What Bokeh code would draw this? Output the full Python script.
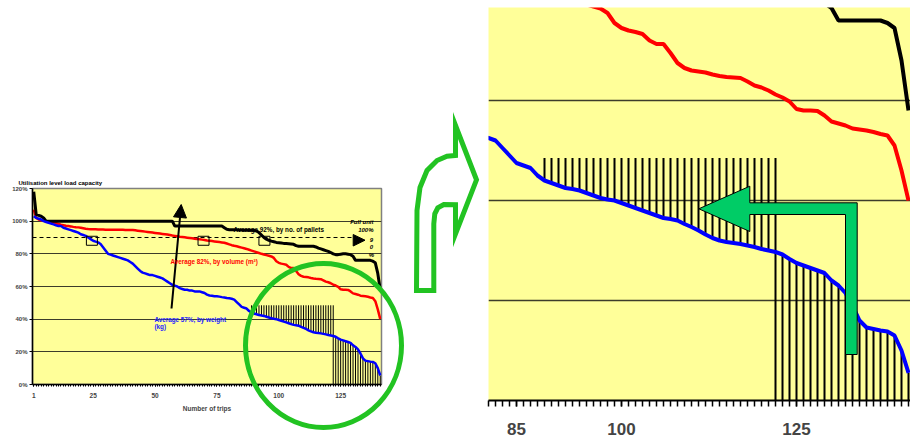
import numpy as np
from bokeh.plotting import figure
from bokeh.models import (FixedTicker, PrintfTickFormatter, Label, PolyAnnotation,
                          Arrow, NormalHead, Range1d)
from bokeh.embed import file_html
from bokeh.resources import INLINE

# ---------------- data ----------------
trips = list(range(1, 142))

pallets = [118, 104, 103.5, 103, 102,
           100, 100, 100, 100, 100, 100, 100, 100, 100, 100,
           100, 100, 100, 100, 100, 100, 100, 100, 100, 100,
           100, 100, 100, 100, 100, 100, 100, 100, 100, 100,
           100, 100, 100, 100, 100, 100, 100, 100, 100, 100,
           100, 100, 100, 100, 100, 100, 100, 100, 100, 100,
           100, 100,
           97, 97, 97, 97, 97, 97, 97, 97, 97, 97,
           97, 97, 97, 97, 97, 97, 97, 97, 97, 97,
           96, 95,
           94.8, 94.8, 94.7, 94.7, 94.6, 94.6, 94.5, 94.5, 94.5, 94.4, 94.3, 94,
           93, 91.5, 90, 89, 88.3, 87.8, 87.4, 87, 86.8, 86.6, 86.4, 86.3, 86.2, 86, 85.8, 85,
           84.6, 84.6, 84.6, 84.6, 84.6, 84.6, 84.6,
           84.2, 83.5, 83, 82.5, 82, 81.5, 80.8, 80, 79.5, 79.5, 79.8, 80, 80, 79.8, 79.5, 78.5, 76,
           76, 76, 76, 76, 76, 76,
           75.5, 74.5, 68, 58]

volume = [107, 102, 101, 100.5, 100.3, 100, 99.7, 99.5, 99.3, 98.8,
          98.3, 97.8, 97.5, 97.2, 97, 96.8, 96.5, 96.3, 96.2, 96,
          95.7, 95.4, 95.2, 95.1, 95, 95, 94.9, 94.9, 94.9, 94.8,
          94.8, 94.8, 94.8, 94.7, 94.7, 94.7, 94.7, 94.6, 94.6, 94.6,
          94.6, 94.4, 94.2, 94, 93.8, 93.6, 93.4, 93.2, 93, 92.8,
          92.6, 92.4, 92.2, 92, 91.8, 91.5, 91.2, 91, 90.8, 90.5,
          90.3, 90.1, 89.9, 89.7, 89.5, 89.3, 89.1, 88.9, 88.7, 88.5,
          88.2, 88, 87.8, 87.6, 87.4, 87.2, 87, 86.8, 86.3, 85.8,
          85.3, 84.9, 84.6, 84.2, 83.8, 83.4, 83, 82.5, 82, 81.5,
          81, 80.5, 80, 79.6, 79.2, 78.8, 78.4, 77.5, 75.5, 74.5,
          74, 73.7, 73.3, 72, 71.3, 71.3, 69.5, 67.5, 66.5, 66,
          65.8, 65.6, 65.2, 64.9, 64.7, 64.6, 64.5, 63.8, 63, 62.6,
          62, 61.2, 60.6, 59.8, 58.3, 58, 58, 57.9, 57, 55.8,
          55.4, 55, 54.4, 54.2, 54, 53.7, 53.3, 53, 51, 46,
          40]

weight = [103, 102, 101.5, 101, 100, 99.5, 99, 98.5, 98, 97.5,
          97, 97, 96, 95.5, 95, 94.5, 94, 93.5, 93, 92,
          91.5, 91, 90, 89, 88, 87.5, 87, 86, 84, 82,
          80, 79.5, 79, 78.5, 78, 77.5, 77, 76.5, 76, 75,
          74, 72.5, 71, 69.5, 68.5, 68, 67.5, 67, 67, 66.5,
          66, 65.5, 65, 64, 63, 62, 61, 60.5, 60, 59,
          58.5, 58, 58, 57.5, 57.5, 57, 57, 57, 56.5, 56,
          55, 54.5, 54.3, 54, 54, 53.8, 53.5, 53.3, 53, 52.8,
          52.5, 52, 50.5, 49, 47.5, 47, 46.5, 45, 44, 43.5,
          43, 42.5, 42.3, 42, 41.5, 41, 40.5, 40.2, 40, 39.5,
          39, 38.5, 38, 37.5, 37, 36.5, 36.3, 36, 35.3, 34.7,
          34, 33.2, 32.5, 32, 31.7, 31.5, 31.3, 31, 30.7, 30.3,
          30, 29.7, 29.2, 28.3, 27.5, 27, 26.5, 26, 25.5, 24,
          23, 21.5, 19, 16, 14.6, 14.3, 14, 13.8, 13, 10,
          5.5]

left_x_labels = [1, 25, 50, 75, 100, 125]
right_x_labels = [85, 100, 125]
y_ticks = [0, 20, 40, 60, 80, 100, 120]
grid_levels = [20, 40, 60, 80, 100]
right_grid_levels = [20, 40, 60]
full_unit_level = 90
hatch_top = 48.5
spare_trips = list(range(89, 123))     # trips with spare capacity (upper hatching)
moved_trips = list(range(122, 142))    # trips whose load is moved (lower hatching)
crossing_trips = [24.5, 69.6, 94.2]
crossing_level = 88

# ---------------- styling ----------------
FONT = "Liberation Sans"
YELLOW = "#FFFF99"
GREEN = "#22C322"
GRID = "#3d3d2a"

up_x = spare_trips
up_y0 = [weight[t - 1] for t in spare_trips]
up_y1 = [hatch_top for _ in spare_trips]
lo_x = moved_trips
lo_y0 = [0 for _ in moved_trips]
lo_y1 = [weight[t - 1] for t in moved_trips]

# page-pixel -> data helpers (for decorations only)
def lx(px):
    return 0.5 + (px - 32) * 141 / 349

def ly(py):
    return (384 - py) * 120 / 196

def rx(px):
    return 100 + (px - 621) / 7.0

def ry(py):
    return (400 - py) / 5.0

# ---------------- left chart ----------------
left = figure(name="left", width=400, height=250,
              x_range=Range1d(0.5, 141.5), y_range=Range1d(0, 120),
              output_backend="svg", toolbar_location=None, title=None,
              min_border_left=32, min_border_right=19, min_border_top=18, min_border_bottom=36)
left.background_fill_color = YELLOW
left.border_fill_color = "white"
left.outline_line_color = "#808080"
left.outline_line_width = 1.5
left.xgrid.visible = False
left.ygrid.ticker = FixedTicker(ticks=grid_levels)
left.ygrid.grid_line_color = GRID
left.ygrid.grid_line_width = 1.2

left.yaxis.ticker = FixedTicker(ticks=y_ticks)
left.yaxis.formatter = PrintfTickFormatter(format="%d%%")
left.yaxis.major_label_text_font = FONT
left.yaxis.major_label_text_font_style = "bold"
left.yaxis.major_label_text_font_size = "6px"
left.yaxis.major_label_standoff = 2
left.yaxis.major_tick_out = 3
left.yaxis.major_tick_in = 0
left.yaxis.minor_tick_out = 0
left.yaxis.minor_tick_in = 0
left.yaxis.axis_line_width = 1.5

left.xaxis.ticker = FixedTicker(ticks=left_x_labels, minor_ticks=trips)
left.xaxis.major_label_text_font = FONT
left.xaxis.major_label_text_font_style = "bold"
left.xaxis.major_label_text_font_size = "6.5px"
left.xaxis.major_label_standoff = 6
left.xaxis.major_tick_out = 2
left.xaxis.major_tick_in = 0
left.xaxis.minor_tick_out = 2
left.xaxis.minor_tick_in = 0
left.xaxis.axis_line_width = 1.5
left.xaxis.axis_label = "Number of trips"
left.xaxis.axis_label_text_font = FONT
left.xaxis.axis_label_text_font_style = "bold"
left.xaxis.axis_label_text_font_size = "6.5px"
left.xaxis.axis_label_standoff = 4

left.segment(up_x, up_y0, up_x, up_y1, line_color="black", line_width=1)
left.segment(lo_x, lo_y0, lo_x, lo_y1, line_color="black", line_width=1)
left.line([0.5, lx(352)], [full_unit_level, full_unit_level], line_color="black",
          line_width=1.2, line_dash="4 3")
left.line(trips, volume, line_color="#FF0000", line_width=2.5)
left.line(trips, pallets, line_color="black", line_width=3)
left.line(trips, weight, line_color="#0000FF", line_width=2.5)
left.rect(crossing_trips, [crossing_level] * 3, width=11, height=9, width_units="screen",
          height_units="screen", fill_color=None, line_color="black", line_width=1)

left.add_layout(PolyAnnotation(xs=[lx(352.7), lx(364.5), lx(352.7)],
                               ys=[ly(234), ly(239.7), ly(245.5)],
                               fill_color="black", fill_alpha=1,
                               line_color="black", line_alpha=1))
left.add_layout(Arrow(x_start=lx(171), y_start=ly(308), x_end=lx(180.7), y_end=ly(204),
                      line_width=2, line_color="black",
                      end=NormalHead(size=13, fill_color="black", line_color="black")))

def add_text(fig, x, y, text, color="black", size="6.3px", style="bold", align="left"):
    fig.add_layout(Label(x=x, y=y, text=text, text_color=color, text_font=FONT,
                         text_font_size=size, text_font_style=style, text_align=align,
                         text_baseline="middle"))

add_text(left, lx(233), ly(228.7), "Average 92%, by no. of pallets")
add_text(left, lx(170), ly(261), "Average 82%, by volume (m³)", color="#FF0000")
add_text(left, lx(154), ly(318.7), "Average 57%, by weight", color="#2222FF")
add_text(left, lx(154), ly(325.7), "(kg)", color="#2222FF")
add_text(left, lx(373), ly(221.7), "Full unit", size="6px", style="bold italic", align="right")
add_text(left, lx(373), ly(229), "100%", size="6px", style="bold italic", align="right")
add_text(left, lx(371), ly(239.5), "9", size="6px", style="bold italic", align="center")
add_text(left, lx(371), ly(246.7), "0", size="6px", style="bold italic", align="center")
add_text(left, lx(371), ly(254.5), "%", size="6px", style="bold italic", align="center")

# ---------------- right (zoomed) chart ----------------
right = figure(name="right", width=430, height=443,
               x_range=Range1d(rx(488), rx(910)), y_range=Range1d(0, ry(7)),
               y_axis_location=None, output_backend="svg", toolbar_location=None, title=None,
               min_border_left=8, min_border_right=0, min_border_top=7, min_border_bottom=43)
right.background_fill_color = YELLOW
right.border_fill_color = "white"
right.outline_line_color = None
right.xgrid.visible = False
right.ygrid.ticker = FixedTicker(ticks=right_grid_levels)
right.ygrid.grid_line_color = GRID
right.ygrid.grid_line_width = 1.3

right.xaxis.ticker = FixedTicker(ticks=right_x_labels, minor_ticks=trips)
right.xaxis.major_label_text_font = FONT
right.xaxis.major_label_text_font_style = "bold"
right.xaxis.major_label_text_font_size = "17px"
right.xaxis.major_label_standoff = 16
right.xaxis.major_tick_out = 6
right.xaxis.major_tick_in = 0
right.xaxis.minor_tick_out = 6
right.xaxis.minor_tick_in = 0
right.xaxis.major_tick_line_width = 1.5
right.xaxis.minor_tick_line_width = 1.5
right.xaxis.axis_line_width = 2

right.segment(up_x, up_y0, up_x, up_y1, line_color="black", line_width=2)
right.segment(lo_x, lo_y0, lo_x, lo_y1, line_color="black", line_width=2)
right.line(trips, volume, line_color="#FF0000", line_width=4)
right.line(trips, pallets, line_color="black", line_width=4)
right.line(trips, weight, line_color="#0000FF", line_width=4)

big_arrow_px = [(698.3, 208.3), (749.3, 185.7), (749.3, 202.3), (856.7, 202.3), (856.7, 354),
                (845, 354), (845, 214), (749.3, 214), (749.3, 231)]
right.add_layout(PolyAnnotation(xs=[rx(p[0]) for p in big_arrow_px],
                                ys=[ry(p[1]) for p in big_arrow_px],
                                fill_color="#00CC66", fill_alpha=1, line_color="black",
                                line_alpha=1, line_width=1))

# ---------------- transparent overlay (page pixels) for the highlight shapes ----------------
overlay = figure(name="overlay", width=910, height=443,
                 x_range=Range1d(0, 910), y_range=Range1d(443, 0),
                 x_axis_location=None, y_axis_location=None,
                 output_backend="svg", toolbar_location=None, title=None,
                 min_border=0, min_border_left=0, min_border_right=0,
                 min_border_top=0, min_border_bottom=0)
overlay.background_fill_alpha = 0
overlay.border_fill_alpha = 0
overlay.outline_line_color = None
overlay.grid.visible = False

overlay.ellipse(x=[323], y=[345], width=[156], height=[164], width_units="screen",
                height_units="screen", fill_color=None, line_color=GREEN, line_width=5)
arrow_px = [(416, 290), (416.5, 210), (419.5, 187), (426.5, 170), (436.5, 160), (446.5, 155.7),
            (455, 155), (455, 125), (476, 179.3), (455, 233.3), (455, 204.3), (443.3, 204),
            (437.3, 207.3), (434.3, 213.3), (433.3, 223.3), (433.3, 290)]
overlay.patch([p[0] for p in arrow_px], [p[1] for p in arrow_px], fill_color=None,
              line_color=GREEN, line_width=5, line_join="miter")
overlay.add_layout(Label(x=18, y=182, text="Utilisation level load capacity", text_font=FONT,
                         text_font_size="6px", text_font_style="bold", text_color="black",
                         text_align="left", text_baseline="middle"))

template = """
{% block postamble %}
<style>
  body { overflow: hidden; background: #ffffff; }
  .slot { position: absolute; }
</style>
{% endblock %}
{% block contents %}
{% from macros import embed %}
<div class="slot" style="left:0px; top:170px;">{{ embed(roots.left) }}</div>
<div class="slot" style="left:480px; top:0px;">{{ embed(roots.right) }}</div>
<div class="slot" style="left:0px; top:0px; z-index:5; pointer-events:none;">{{ embed(roots.overlay) }}</div>
{% endblock %}
"""

open("out.html", "w").write(file_html([left, right, overlay], INLINE, template=template))
